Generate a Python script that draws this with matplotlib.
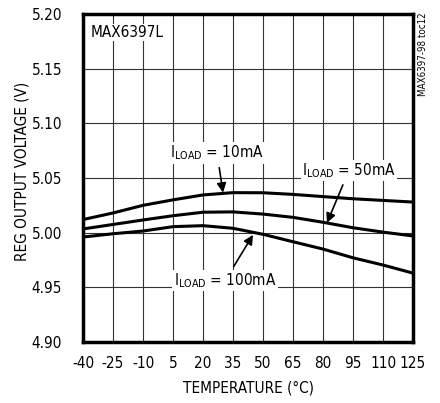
import matplotlib.pyplot as plt
import numpy as np

plt.rcParams['font.family'] = ['Liberation Sans Narrow', 'DejaVu Sans']
plt.rcParams['font.stretch'] = 'condensed'

# temperatures (C)
temp = [-40, -25, -10, 5, 20, 35, 50, 65, 80, 95, 110, 125]
# reg output voltage (V)
v_10ma = [5.012, 5.018, 5.025, 5.030, 5.0345, 5.0366, 5.0365, 5.035, 5.033, 5.031, 5.0295, 5.028]
v_50ma = [5.0034, 5.0075, 5.0116, 5.0155, 5.0187, 5.019, 5.017, 5.014, 5.0095, 5.0045, 5.0005, 4.997]
v_100ma = [4.996, 4.999, 5.0015, 5.0055, 5.0064, 5.004, 4.9985, 4.9917, 4.985, 4.977, 4.9704, 4.963]

xticks = [-40, -25, -10, 5, 20, 35, 50, 65, 80, 95, 110, 125]
yticks = [4.90, 4.95, 5.00, 5.05, 5.10, 5.15, 5.20]

fs = 11

fig = plt.figure(figsize=(4.4, 4.03), dpi=100)
ax = fig.add_axes([83 / 440, 1 - 342 / 403, 330 / 440, 328 / 403])

for v in (v_10ma, v_50ma, v_100ma):
    ax.plot(temp, v, color='black', linewidth=2.2, zorder=3)

ax.set_xlim(-40, 125)
ax.set_ylim(4.90, 5.20)
ax.set_xticks(xticks)
ax.set_yticks(yticks)
ax.set_xticklabels([str(t) for t in xticks], fontsize=fs)
ax.set_yticklabels(['%.2f' % t for t in yticks], fontsize=fs)
ax.tick_params(axis='x', length=0, pad=10)
ax.tick_params(axis='y', length=0, pad=15)
ax.grid(True, color='#333333', linewidth=0.8)
for s in ax.spines.values():
    s.set_linewidth(2.5)

ax.set_xlabel('TEMPERATURE (°C)', fontsize=fs)
ax.xaxis.set_label_coords(0.5, -0.118)
ax.set_ylabel('REG OUTPUT VOLTAGE (V)', fontsize=fs)
ax.yaxis.set_label_coords(-0.162, 0.52)

box = dict(facecolor='white', edgecolor='none', pad=1)
ax.text(-36, 5.19, 'MAX6397L', fontsize=fs, va='top', ha='left', bbox=box, zorder=4)

arrow = dict(arrowstyle='-|>', color='black', lw=1.2, mutation_scale=14, shrinkA=3, shrinkB=0)
ax.annotate(r'I$_{\mathregular{LOAD}}$ = 10mA', xy=(30, 5.0366), xytext=(27, 5.073),
            ha='center', va='center', fontsize=fs, bbox=box, zorder=4, arrowprops=arrow)
ax.annotate(r'I$_{\mathregular{LOAD}}$ = 50mA', xy=(82, 5.009), xytext=(93, 5.057),
            ha='center', va='center', fontsize=fs, bbox=box, zorder=4, arrowprops=arrow)
ax.annotate(r'I$_{\mathregular{LOAD}}$ = 100mA', xy=(45, 4.998), xytext=(31, 4.956),
            ha='center', va='center', fontsize=fs, bbox=box, zorder=4, arrowprops=arrow)

fig.text(423 / 440, 1 - 54 / 403, 'MAX6397-98 toc12', rotation=90, fontsize=7,
         ha='center', va='center')

fig.savefig('out.png', dpi=100)
